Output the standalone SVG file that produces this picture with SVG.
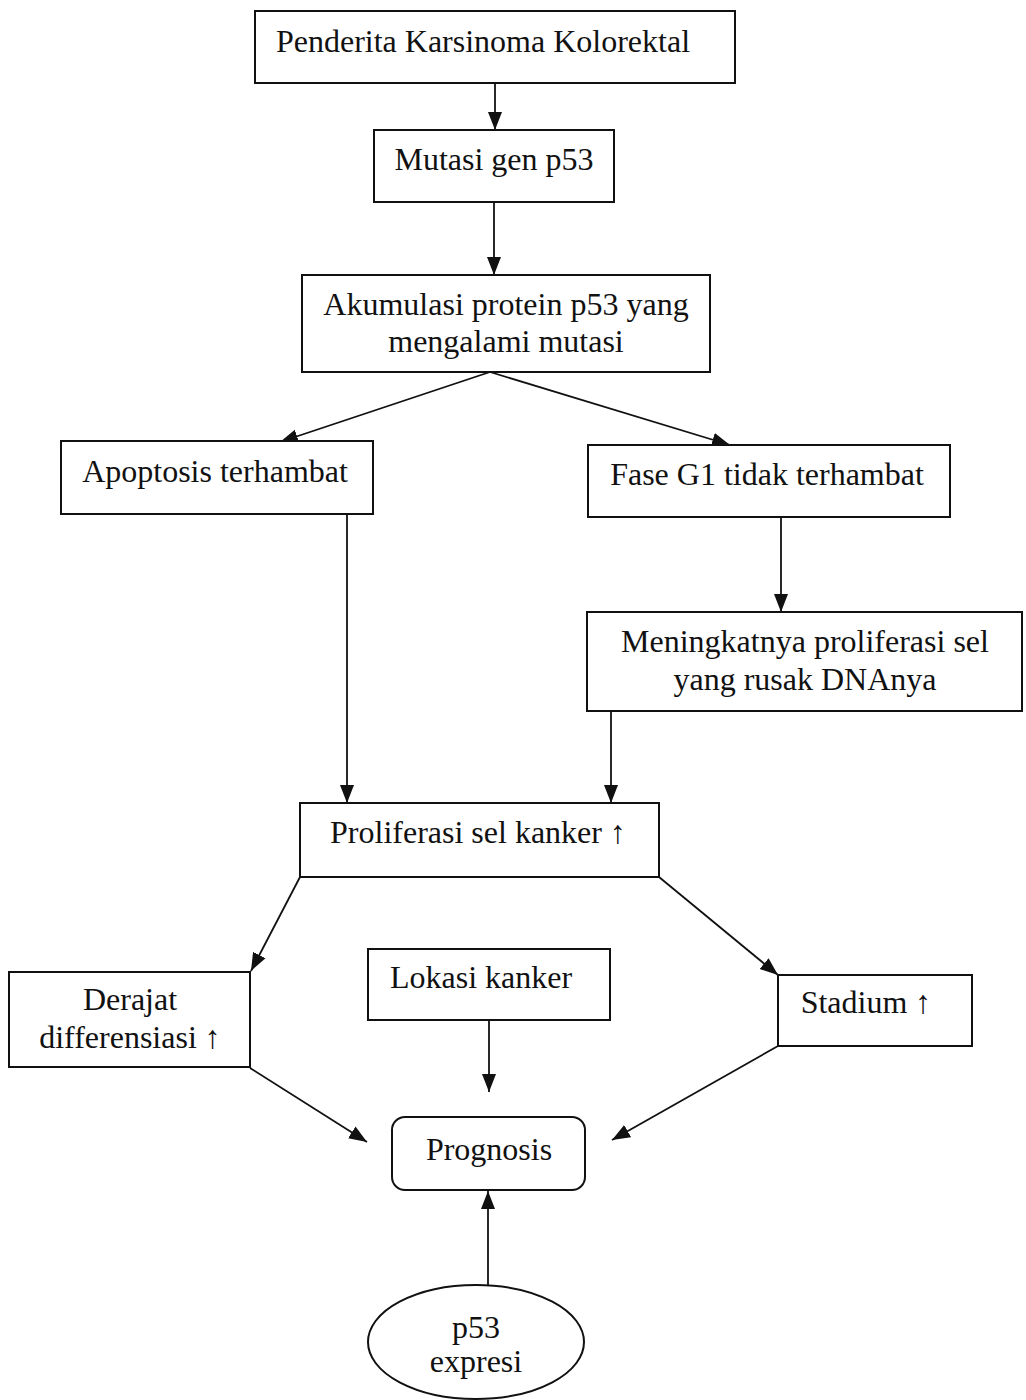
<svg xmlns="http://www.w3.org/2000/svg" width="1026" height="1400" viewBox="0 0 1026 1400">
<defs>
<marker id="ah" markerUnits="userSpaceOnUse" markerWidth="20" markerHeight="16" refX="18" refY="8" orient="auto">
<path d="M0,1 L18,8 L0,15 Z" fill="#111"/>
</marker>
<style>
.box{fill:#fff;stroke:#111;stroke-width:2}
.t{font-family:"Liberation Serif","Times New Roman",serif;font-size:32px;fill:#111;text-anchor:middle}
.c{stroke:#111;stroke-width:1.8;fill:none;marker-end:url(#ah)}
</style>
</defs>
<rect width="1026" height="1400" fill="#fff"/>
<g id="connectors">
<line class="c" x1="495" y1="83" x2="495" y2="130"/>
<line class="c" x1="494" y1="202" x2="494" y2="275"/>
<line class="c" x1="490" y1="372" x2="280" y2="442"/>
<line class="c" x1="490" y1="372" x2="730" y2="445"/>
<line class="c" x1="781" y1="517" x2="781" y2="612"/>
<line class="c" x1="347" y1="514" x2="347" y2="803"/>
<line class="c" x1="611" y1="711" x2="611" y2="803"/>
<line class="c" x1="300" y1="877" x2="251" y2="971"/>
<line class="c" x1="659" y1="877" x2="778" y2="975"/>
<line class="c" x1="489" y1="1020" x2="489" y2="1092"/>
<line class="c" x1="250" y1="1068" x2="367" y2="1142"/>
<line class="c" x1="778" y1="1046" x2="612" y2="1140"/>
<line class="c" x1="488" y1="1285" x2="488" y2="1191"/>
</g>
<g id="n1"><rect class="box" x="255" y="11" width="480" height="72"/><text class="t" x="483" y="52">Penderita Karsinoma Kolorektal</text></g>
<g id="n2"><rect class="box" x="374" y="130" width="240" height="72"/><text class="t" x="494" y="170">Mutasi gen p53</text></g>
<g id="n3"><rect class="box" x="302" y="275" width="408" height="97"/><text class="t" x="506" y="315">Akumulasi protein p53 yang</text><text class="t" x="506" y="352">mengalami mutasi</text></g>
<g id="n4"><rect class="box" x="61" y="441" width="312" height="73"/><text class="t" x="215" y="482">Apoptosis terhambat</text></g>
<g id="n5"><rect class="box" x="588" y="445" width="362" height="72"/><text class="t" x="767" y="485">Fase G1 tidak terhambat</text></g>
<g id="n6"><rect class="box" x="587" y="612" width="435" height="99"/><text class="t" x="805" y="652">Meningkatnya proliferasi sel</text><text class="t" x="805" y="690">yang rusak DNAnya</text></g>
<g id="n7"><rect class="box" x="300" y="803" width="359" height="74"/><text class="t" x="478" y="843">Proliferasi sel kanker ↑</text></g>
<g id="n8"><rect class="box" x="9" y="972" width="241" height="95"/><text class="t" x="130" y="1010">Derajat</text><text class="t" x="130" y="1048">differensiasi ↑</text></g>
<g id="n9"><rect class="box" x="368" y="949" width="242" height="71"/><text class="t" x="481" y="988">Lokasi kanker</text></g>
<g id="n10"><rect class="box" x="778" y="975" width="194" height="71"/><text class="t" x="866" y="1013">Stadium ↑</text></g>
<g id="n11"><rect class="box" x="392" y="1117" width="193" height="73" rx="13"/><text class="t" x="489" y="1160">Prognosis</text></g>
<g id="n12"><ellipse class="box" cx="476" cy="1342" rx="108" ry="57"/><text class="t" x="476" y="1338">p53</text><text class="t" x="476" y="1372">expresi</text></g>
</svg>
